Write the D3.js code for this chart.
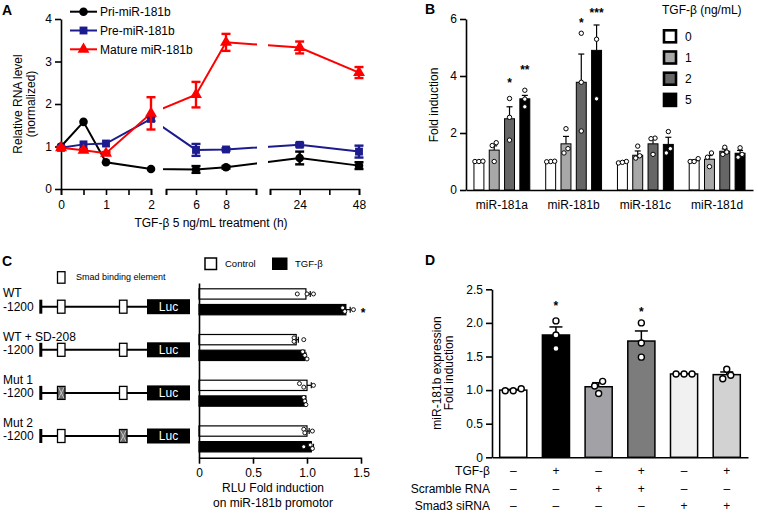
<!DOCTYPE html>
<html>
<head>
<meta charset="utf-8">
<script src="https://cdn.jsdelivr.net/npm/d3@7/dist/d3.min.js"></script>
<style>
 html,body{margin:0;padding:0;background:#fff;}
 svg text{font-family:"Liberation Sans",Arial,Helvetica,sans-serif;fill:#000;}
 .axis path,.axis line{stroke:#000;stroke-width:1.6;}
 .axis text{font-size:12px;font-family:"Liberation Sans",Arial,Helvetica,sans-serif;}
</style>
</head>
<body>
<svg id="fig" width="758" height="514"></svg>
<script>
// ---------------- Panel A data ----------------
const timesA = [0, 0.5, 1, 2, 6, 8, 24, 48];
const priMeanA = [1.00, 1.58, 0.63, 0.47, 0.46, 0.51, 0.73, 0.55];
const priSemA  = [0, 0, 0, 0, 0.08, 0.03, 0.15, 0.08];
const preMeanA = [0.97, 1.05, 1.07, 1.65, 0.92, 0.93, 1.04, 0.88];
const preSemA  = [0, 0, 0, 0.05, 0.14, 0.03, 0.04, 0.14];
const matMeanA = [0.97, 0.91, 0.84, 1.78, 2.22, 3.45, 3.33, 2.74];
const matSemA  = [0.03, 0.03, 0.03, 0.38, 0.30, 0.20, 0.14, 0.13];
const seriesNamesA = ['Pri-miR-181b', 'Pre-miR-181b', 'Mature miR-181b'];
const xSegDomainsA = [[0, 2], [4, 10], [12, 48]];
const xTicksA = [[0, 0.5, 1, 1.5, 2], [4, 6, 8, 10], [12, 24, 36, 48]];
const xTickLabelsA = [0, 1, 2, 6, 8, 24, 48];
const yTicksA = [0, 1, 2, 3, 4];

// ---------------- Panel B data ----------------
const genesB = ['miR-181a', 'miR-181b', 'miR-181c', 'miR-181d'];
const dosesB = ['0', '1', '2', '5'];
const meanB = [[1.00, 1.40, 2.50, 3.20], [1.00, 1.62, 3.78, 4.90], [0.97, 1.22, 1.62, 1.60], [1.03, 1.08, 1.36, 1.29]];
const semB  = [[0.02, 0.15, 0.42, 0.12], [0.02, 0.26, 0.99, 0.89], [0.03, 0.15, 0.16, 0.25], [0.03, 0.13, 0.08, 0.10]];
const dotsB = [
  [[1.00, 1.00, 1.01], [1.66, 1.56, 1.00], [1.75, 2.55, 3.21], [3.50, 3.19, 2.92]],
  [[1.00, 0.99, 1.01], [2.15, 1.45, 1.30], [5.50, 3.78, 2.07], [5.29, 3.20]],
  [[1.00, 0.95, 0.97], [1.54, 1.20, 1.12], [1.82, 1.80, 1.25], [2.05, 1.45, 1.30]],
  [[1.10, 1.00, 1.00], [1.30, 1.15, 0.82], [1.50, 1.33, 1.25], [1.48, 1.25, 1.15]]
];
const starsB = [
  {gene: 'miR-181a', dose: '2', text: '*', level: 3.86},
  {gene: 'miR-181a', dose: '5', text: '**', level: 4.32},
  {gene: 'miR-181b', dose: '2', text: '*', level: 5.96},
  {gene: 'miR-181b', dose: '5', text: '***', level: 6.32}
];
const yTicksB = [0, 2, 4, 6];
const legendTitleB = 'TGF-β (ng/mL)';

// ---------------- Panel C data ----------------
const constructsC = ['WT', 'WT + SD-208', 'Mut 1', 'Mut 2'];
const treatC = ['Control', 'TGF-β'];
const controlC = [0.99, 0.90, 1.00, 1.00];
const tgfC = [1.36, 0.98, 0.99, 1.04];
const controlSemC = [0.04, 0.02, 0.04, 0.02];
const tgfSemC = [0.04, 0.01, 0.00, 0.02];
const controlDotsC = [[0.91, 1.00, 1.06], [0.88, 0.88, 0.97], [0.93, 0.97, 1.06], [0.97, 0.98, 1.05]];
const tgfDotsC = [[1.33, 1.35, 1.43], [0.96, 0.98, 1.00], [0.97, 0.98, 0.99], [0.97, 1.03, 1.05]];
const mutatedSbeC = [[false, false], [false, false], [true, false], [false, true]];
const promoterStartC = '-1200';
const starsC = [{row: 'WT', text: '*', level: 1.52}];
const xTicksC = [0, 0.5, 1.0, 1.5];

// ---------------- Panel D data ----------------
const conditionsD = ['c1', 'c2', 'c3', 'c4', 'c5', 'c6'];
const meanD = [1.00, 1.82, 1.05, 1.73, 1.24, 1.23];
const semD  = [0.01, 0.12, 0.06, 0.15, 0.004, 0.04];
const dotsD = [[1.02, 0.99, 0.99], [2.03, 1.82, 1.62], [1.13, 1.06, 0.95], [2.00, 1.70, 1.49], [1.24, 1.24, 1.24], [1.31, 1.22, 1.17]];
const tableRowsD = ['TGF-β', 'Scramble RNA', 'Smad3 siRNA'];
const tgfD      = ['–', '+', '–', '+', '–', '+'];
const scrambleD = ['–', '–', '+', '+', '–', '–'];
const smadD     = ['–', '–', '–', '–', '+', '+'];
const starsD = [{i: 1, level: 2.29}, {i: 3, level: 2.20}];
const yTicksD = [0, 0.5, 1.0, 1.5, 2.0, 2.5];

// ================= drawing =================
const svg = d3.select('#fig');
svg.append('rect').attr('width', 758).attr('height', 514).attr('fill', '#fff');
const defs = svg.append('defs');

function rotText(g, x, y, txt, size) {
  g.append('text').attr('transform', `translate(${x},${y}) rotate(-90)`)
    .attr('text-anchor', 'middle').attr('dy', '0.35em').style('font-size', (size || 12) + 'px').text(txt);
}
function swarm(vals, scale, r, spread) {
  const idx = vals.map((v, i) => i).sort((a, b) => vals[a] - vals[b]);
  const off = new Array(vals.length).fill(0);
  const groups = []; let cur = [idx[0]];
  for (let k = 1; k < idx.length; k++) {
    if (Math.abs(scale(vals[idx[k]]) - scale(vals[cur[cur.length - 1]])) < 2 * r) cur.push(idx[k]);
    else { groups.push(cur); cur = [idx[k]]; }
  }
  groups.push(cur);
  groups.forEach(g => g.forEach((j, m) => { off[j] = (m - (g.length - 1) / 2) * spread; }));
  return off;
}

// panel letters
const panelLetters = ['A', 'B', 'C', 'D'];
const panelLetterPos = [[2, 15], [425, 14], [2, 266], [425, 265]];
panelLetters.forEach((t, i) => svg.append('text').attr('x', panelLetterPos[i][0]).attr('y', panelLetterPos[i][1])
  .style('font-size', '14px').style('font-weight', 'bold').text(t));

// ---------- Panel A ----------
(function () {
  const g = svg.append('g');
  const yA = d3.scaleLinear().domain([0, 4]).range([189, 19]);
  const segRanges = [[61, 151], [166, 256], [270, 359]];
  const xSeg = xSegDomainsA.map((d, i) => d3.scaleLinear().domain(d).range(segRanges[i]));
  const xA = t => { const s = xSeg.find(s => t >= s.domain()[0] && t <= s.domain()[1]); return s(t); };

  g.append('g').attr('class', 'axis').attr('transform', `translate(${segRanges[0][0]},0)`)
    .call(d3.axisLeft(yA).tickValues(yTicksA).tickFormat(d3.format('d')).tickSize(6).tickSizeOuter(0));
  xSeg.forEach((s, i) => {
    g.append('g').attr('class', 'axis').attr('transform', `translate(0,${yA(0)})`)
      .call(d3.axisBottom(s).tickValues(xTicksA[i]).tickSize(6).tickSizeOuter(6).tickPadding(5)
        .tickFormat(d => xTickLabelsA.includes(d) ? d : ''));
  });

  const clip = defs.append('clipPath').attr('id', 'clipA');
  [[30, 153], [163, 257], [268, 380]].forEach(([a, b]) =>
    clip.append('rect').attr('x', a).attr('y', 0).attr('width', b - a).attr('height', 200));

  const series = [
    {name: seriesNamesA[0], mean: priMeanA, sem: priSemA, color: '#000000', shape: d3.symbolCircle, size: 58},
    {name: seriesNamesA[1], mean: preMeanA, sem: preSemA, color: '#1c1c8e', shape: d3.symbolSquare, size: 62},
    {name: seriesNamesA[2], mean: matMeanA, sem: matSemA, color: '#ff0000', shape: d3.symbolTriangle, size: 62}
  ];
  const line = d3.line().x((d, i) => xA(timesA[i])).y(d => yA(d));
  const lg = g.append('g').attr('clip-path', 'url(#clipA)');
  series.forEach(s => lg.append('path').attr('d', line(s.mean)).attr('fill', 'none')
    .attr('stroke', s.color).attr('stroke-width', 2));

  series.forEach(s => {
    s.mean.forEach((m, i) => {
      if (!s.sem[i]) return;
      const x = xA(timesA[i]), y1 = yA(m - s.sem[i]), y2 = yA(m + s.sem[i]);
      const eg = g.append('g').attr('stroke', s.color).attr('stroke-width', 2.4);
      eg.append('line').attr('x1', x).attr('x2', x).attr('y1', y1).attr('y2', y2);
      [y1, y2].forEach(y => eg.append('line').attr('x1', x - 4.5).attr('x2', x + 4.5).attr('y1', y).attr('y2', y));
    });
    g.append('g').selectAll('path').data(s.mean).join('path')
      .attr('transform', (d, i) => `translate(${xA(timesA[i])},${yA(d)})`)
      .attr('d', d3.symbol(s.shape, s.size)).attr('fill', s.color);
  });

  // legend
  series.forEach((s, i) => {
    const y = 11.7 + i * 18.8;
    g.append('line').attr('x1', 70).attr('x2', 97).attr('y1', y).attr('y2', y).attr('stroke', s.color).attr('stroke-width', 2);
    g.append('path').attr('transform', `translate(83.5,${y})`).attr('d', d3.symbol(s.shape, s.size)).attr('fill', s.color);
    g.append('text').attr('x', 100).attr('y', y).attr('dy', '0.35em').style('font-size', '12px').text(s.name);
  });

  g.append('text').attr('x', 211).attr('y', 227).attr('text-anchor', 'middle').style('font-size', '12px')
    .text('TGF-β 5 ng/mL treatment (h)');
  rotText(g, 18, 104, 'Relative RNA level', 12);
  rotText(g, 31, 104, '(normalized)', 12);
})();

// ---------- Panel B ----------
(function () {
  const g = svg.append('g');
  const yB = d3.scaleLinear().domain([0, 6]).range([190, 19]);
  const x0 = d3.scaleBand().domain(genesB).range([466, 753]);
  const x1 = d3.scaleBand().domain(dosesB).range([-30.6, 30.6]).paddingInner(0.35).paddingOuter(0.175);
  const color = d3.scaleOrdinal().domain(dosesB).range(['#ffffff', '#a8a8a8', '#666666', '#000000']);
  const bx = (gi, d) => x0(gi) + x0.bandwidth() / 2 + x1(d);

  genesB.forEach((gene, gi) => {
    dosesB.forEach((dose, di) => {
      const m = meanB[gi][di], s = semB[gi][di], x = bx(gene, dose), w = x1.bandwidth();
      g.append('line').attr('x1', x + w / 2).attr('x2', x + w / 2).attr('y1', yB(m)).attr('y2', yB(m + s)).attr('stroke', '#000').attr('stroke-width', 1.2);
      g.append('line').attr('x1', x + w / 2 - 3).attr('x2', x + w / 2 + 3).attr('y1', yB(m + s)).attr('y2', yB(m + s)).attr('stroke', '#000').attr('stroke-width', 1.2);
      g.append('rect').attr('x', x).attr('y', yB(m)).attr('width', w).attr('height', yB(0) - yB(m))
        .attr('fill', color(dose)).attr('stroke', '#000').attr('stroke-width', 1);
      const vals = dotsB[gi][di];
      const off = swarm(vals, yB, 2.4, 4);
      vals.forEach((v, k) => g.append('circle').attr('cx', x + w / 2 + off[k]).attr('cy', yB(v)).attr('r', 2.2)
        .attr('fill', '#fff').attr('stroke', '#000').attr('stroke-width', 1));
    });
  });
  starsB.forEach(s => g.append('text').attr('x', bx(s.gene, s.dose) + x1.bandwidth() / 2).attr('y', yB(s.level) + 7)
    .attr('text-anchor', 'middle').style('font-size', '12px').style('font-weight', 'bold').text(s.text));

  g.append('g').attr('class', 'axis').attr('transform', 'translate(466,0)')
    .call(d3.axisLeft(yB).tickValues(yTicksB).tickFormat(d3.format('d')).tickSize(6).tickSizeOuter(0));
  g.append('g').attr('class', 'axis').attr('transform', `translate(0,${yB(0)})`)
    .call(d3.axisBottom(x0).tickSize(0).tickSizeOuter(0).tickPadding(10));
  rotText(g, 434, 105, 'Fold induction', 12);

  // legend
  g.append('text').attr('x', 662).attr('y', 14).style('font-size', '12px').text(legendTitleB);
  dosesB.forEach((d, i) => {
    const cy = 36.3 + i * 21.2;
    g.append('rect').attr('x', 664).attr('y', cy - 6).attr('width', 12).attr('height', 12)
      .attr('fill', color(d)).attr('stroke', '#000').attr('stroke-width', 2.6);
    g.append('text').attr('x', 685).attr('y', cy).attr('dy', '0.35em').style('font-size', '12px').text(d);
  });
})();

// ---------- Panel C ----------
(function () {
  const g = svg.append('g');
  const xC = d3.scaleLinear().domain([0, 1.5]).range([199, 361]);
  const yC = d3.scaleBand().domain(constructsC).range([283, 457.7]).paddingInner(0.431).paddingOuter(0.127);
  const y1 = d3.scaleBand().domain(treatC).range([0, yC.bandwidth()]).paddingInner(0.344);
  const fills = {'Control': '#ffffff', 'TGF-β': '#000000'};

  constructsC.forEach((row, ri) => {
    [[treatC[0], controlC, controlSemC, controlDotsC], [treatC[1], tgfC, tgfSemC, tgfDotsC]].forEach(([t, mean, sem, dots]) => {
      const y = yC(row) + y1(t), h = y1.bandwidth(), m = mean[ri], s = sem[ri], cy = y + h / 2;
      if (s > 0) {
        g.append('line').attr('x1', xC(m)).attr('x2', xC(m + s)).attr('y1', cy).attr('y2', cy).attr('stroke', '#000').attr('stroke-width', 1.2);
        g.append('line').attr('x1', xC(m + s)).attr('x2', xC(m + s)).attr('y1', cy - 3).attr('y2', cy + 3).attr('stroke', '#000').attr('stroke-width', 1.2);
      }
      g.append('rect').attr('x', xC(0)).attr('y', y).attr('width', xC(m) - xC(0)).attr('height', h)
        .attr('fill', fills[t]).attr('stroke', '#000').attr('stroke-width', 1.2);
      const vals = dots[ri];
      const off = swarm(vals, xC, 2.2, 3.6);
      vals.forEach((v, k) => g.append('circle').attr('cx', xC(v)).attr('cy', cy + off[k]).attr('r', 2)
        .attr('fill', '#fff').attr('stroke', '#000').attr('stroke-width', 0.9));
    });
  });
  starsC.forEach(s => g.append('text').attr('x', xC(s.level)).attr('y', yC(s.row) + y1(treatC[1]) + y1.bandwidth() / 2 + 7)
    .attr('text-anchor', 'middle').style('font-size', '12px').style('font-weight', 'bold').text(s.text));

  g.append('g').attr('class', 'axis').attr('transform', 'translate(199,0)')
    .call(d3.axisLeft(yC).tickSize(0).tickSizeOuter(0).tickFormat(''));
  g.append('g').attr('class', 'axis').attr('transform', 'translate(0,457.7)')
    .call(d3.axisBottom(xC).tickValues(xTicksC).tickSize(6).tickSizeOuter(0).tickPadding(5)
      .tickFormat(d => d === 0 ? '0' : d3.format('.1f')(d)));
  g.append('text').attr('x', 273).attr('y', 492).attr('text-anchor', 'middle').style('font-size', '12px').text('RLU Fold induction');
  g.append('text').attr('x', 273).attr('y', 507).attr('text-anchor', 'middle').style('font-size', '12px').text('on miR-181b promotor');

  // legend
  g.append('rect').attr('x', 205).attr('y', 258).attr('width', 11.5).attr('height', 11.5).attr('fill', '#fff').attr('stroke', '#000').attr('stroke-width', 1.5);
  g.append('text').attr('x', 225).attr('y', 263.7).attr('dy', '0.35em').style('font-size', '9.5px').text(treatC[0]);
  g.append('rect').attr('x', 272).attr('y', 257.5).attr('width', 15.5).attr('height', 12.5).attr('fill', '#000');
  g.append('text').attr('x', 295).attr('y', 263.7).attr('dy', '0.35em').style('font-size', '9.5px').text(treatC[1]);

  // schematic of constructs
  const yS = d3.scalePoint().domain(constructsC).range([306.7, 436]);
  const sbeX = [57.5, 119.5];
  constructsC.forEach((row, ri) => {
    const ly = yS(row);
    g.append('text').attr('x', 3).attr('y', ly - 13.5).attr('dy', '0.35em').style('font-size', '12px').text(row);
    g.append('text').attr('x', 3).attr('y', ly).attr('dy', '0.35em').style('font-size', '12px').text(promoterStartC);
    g.append('rect').attr('x', 39.3).attr('y', ly - 7).attr('width', 3).attr('height', 14).attr('fill', '#000');
    g.append('line').attr('x1', 42).attr('x2', 147).attr('y1', ly).attr('y2', ly).attr('stroke', '#000').attr('stroke-width', 2);
    sbeX.forEach((sx, k) => {
      const mut = mutatedSbeC[ri][k];
      g.append('rect').attr('x', sx).attr('y', ly - 6.5).attr('width', 7.5).attr('height', 13)
        .attr('fill', mut ? '#6f6f6f' : '#fff').attr('stroke', '#000').attr('stroke-width', 1.3);
      if (mut) {
        g.append('line').attr('x1', sx + 1).attr('x2', sx + 6.5).attr('y1', ly - 5.5).attr('y2', ly + 5.5).attr('stroke', '#c8c8c8').attr('stroke-width', 0.9);
        g.append('line').attr('x1', sx + 6.5).attr('x2', sx + 1).attr('y1', ly - 5.5).attr('y2', ly + 5.5).attr('stroke', '#c8c8c8').attr('stroke-width', 0.9);
      }
    });
    g.append('rect').attr('x', 147).attr('y', ly - 7.5).attr('width', 43).attr('height', 15).attr('fill', '#000');
    g.append('text').attr('x', 168.5).attr('y', ly).attr('dy', '0.35em').attr('text-anchor', 'middle')
      .style('font-size', '12px').style('fill', '#fff').text('Luc');
  });
  g.append('rect').attr('x', 57.5).attr('y', 271.7).attr('width', 7.5).attr('height', 11.5).attr('fill', '#fff').attr('stroke', '#000').attr('stroke-width', 1.3);
  g.append('text').attr('x', 76).attr('y', 277).attr('dy', '0.35em').style('font-size', '9px').text('Smad binding element');
})();

// ---------- Panel D ----------
(function () {
  const g = svg.append('g');
  const yD = d3.scaleLinear().domain([0, 2.5]).range([457.3, 289.3]);
  const xD = d3.scaleBand().domain(conditionsD).range([492, 748]).paddingInner(0.365).paddingOuter(0.18);
  const colorD = d3.scaleOrdinal().domain(conditionsD).range(['#ffffff', '#000000', '#a2a2a6', '#7c7c7c', '#f1f1f1', '#d2d2d2']);
  const w = xD.bandwidth();

  conditionsD.forEach((c, i) => {
    const x = xD(c), m = meanD[i], s = semD[i], cx = x + w / 2;
    g.append('line').attr('x1', cx).attr('x2', cx).attr('y1', yD(m)).attr('y2', yD(m + s)).attr('stroke', '#000').attr('stroke-width', 1.5);
    g.append('line').attr('x1', cx - 6.5).attr('x2', cx + 6.5).attr('y1', yD(m + s)).attr('y2', yD(m + s)).attr('stroke', '#000').attr('stroke-width', 1.5);
    g.append('rect').attr('x', x).attr('y', yD(m)).attr('width', w).attr('height', yD(0) - yD(m))
      .attr('fill', colorD(c)).attr('stroke', '#000').attr('stroke-width', 1.5);
    const vals = dotsD[i];
    const off = swarm(vals, yD, 3, 8);
    vals.forEach((v, k) => g.append('circle').attr('cx', cx + off[k]).attr('cy', yD(v)).attr('r', 3)
      .attr('fill', '#fff').attr('stroke', '#000').attr('stroke-width', 1.4));
  });
  starsD.forEach(s => g.append('text').attr('x', xD(conditionsD[s.i]) + w / 2).attr('y', yD(s.level) + 7)
    .attr('text-anchor', 'middle').style('font-size', '12px').style('font-weight', 'bold').text('*'));

  g.append('g').attr('class', 'axis').attr('transform', 'translate(492,0)')
    .call(d3.axisLeft(yD).tickValues(yTicksD).tickSize(6).tickSizeOuter(0)
      .tickFormat(d => d === 0 ? '0' : d3.format('.1f')(d)));
  g.append('g').attr('class', 'axis').attr('transform', `translate(0,${yD(0)})`)
    .call(d3.axisBottom(xD).tickSize(0).tickSizeOuter(0).tickFormat(''));
  rotText(g, 437, 373, 'miR-181b expression', 12);
  rotText(g, 449, 373, 'Fold induction', 12);

  const rowsY = [470.7, 488.3, 506];
  [tgfD, scrambleD, smadD].forEach((arr, r) => {
    g.append('text').attr('x', 490).attr('y', rowsY[r]).attr('dy', '0.35em').attr('text-anchor', 'end')
      .style('font-size', '12px').text(tableRowsD[r]);
    arr.forEach((sgn, i) => g.append('text').attr('x', xD(conditionsD[i]) + w / 2).attr('y', rowsY[r]).attr('dy', '0.35em')
      .attr('text-anchor', 'middle').style('font-size', '12px').text(sgn));
  });
})();
</script>
</body>
</html>
